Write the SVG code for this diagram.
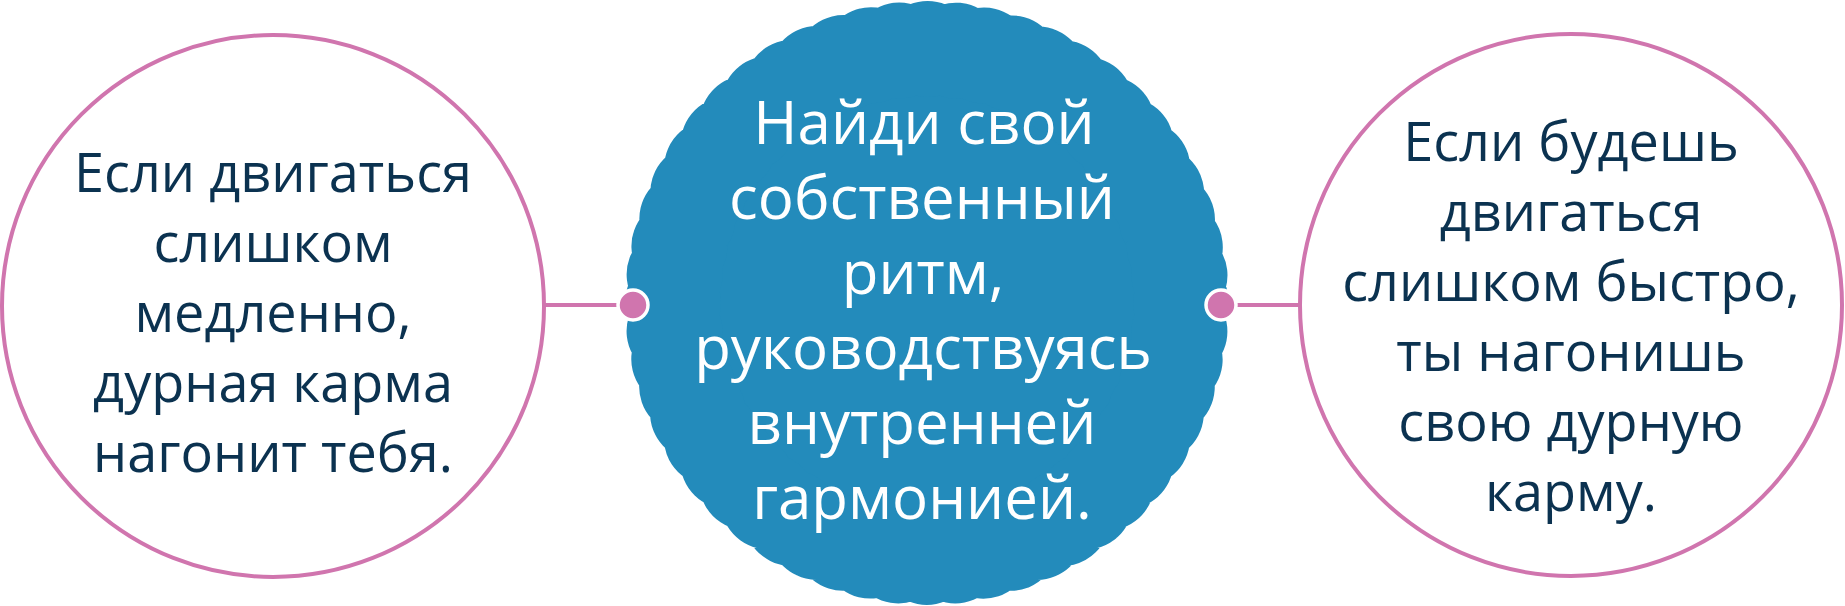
<svg xmlns="http://www.w3.org/2000/svg" width="1845" height="606" viewBox="0 0 1845 606">
<style>
.ring{fill:#ffffff;stroke:#D075AE;stroke-width:4}
.side{font-family:"Open Sans","Noto Sans",sans-serif;font-weight:500;font-size:54px;fill:#0B3250;text-anchor:middle}
.mid{font-family:"Open Sans","Noto Sans",sans-serif;font-weight:400;font-size:60px;fill:#ffffff;text-anchor:middle}
.conn{stroke:#D075AE;stroke-width:4;fill:none}
.dot{fill:#D075AE;stroke:#ffffff;stroke-width:3.5}
</style>
<rect width="1845" height="606" fill="#ffffff"/>
<g id="connectors">
<line class="conn" x1="544" y1="305" x2="633" y2="305"/>
<line class="conn" x1="1221" y1="305" x2="1300" y2="305"/>
</g>
<g id="node-left">
<circle class="ring" cx="273" cy="306" r="271"/>
<text class="side"><tspan x="273" y="192">Если двигаться</tspan><tspan x="273" y="262">слишком</tspan><tspan x="273" y="332">медленно,</tspan><tspan x="273" y="402">дурная карма</tspan><tspan x="273" y="472">нагонит тебя.</tspan></text>
</g>
<g id="node-center">
<circle cx="927" cy="303" r="256" fill="#238BBB"/>
<circle cx="927" cy="303" r="254" fill="none" stroke="#238BBB" stroke-width="96" stroke-linecap="round" stroke-dasharray="0.001 28.498"/>
<text class="mid"><tspan x="924" y="144">Найди свой</tspan><tspan x="922" y="219">собственный</tspan><tspan x="923" y="294">ритм,</tspan><tspan x="923" y="369">руководствуясь</tspan><tspan x="922" y="444">внутренней</tspan><tspan x="922" y="519">гармонией.</tspan></text>
</g>
<g id="node-right">
<circle class="ring" cx="1571" cy="305" r="271"/>
<text class="side"><tspan x="1571" y="161">Если будешь</tspan><tspan x="1571" y="231">двигаться</tspan><tspan x="1571" y="301">слишком быстро,</tspan><tspan x="1571" y="371">ты нагонишь</tspan><tspan x="1571" y="441">свою дурную</tspan><tspan x="1571" y="511">карму.</tspan></text>
</g>
<g id="dots">
<circle class="dot" cx="633" cy="305" r="15"/>
<circle class="dot" cx="1221" cy="305" r="15"/>
</g>
</svg>
